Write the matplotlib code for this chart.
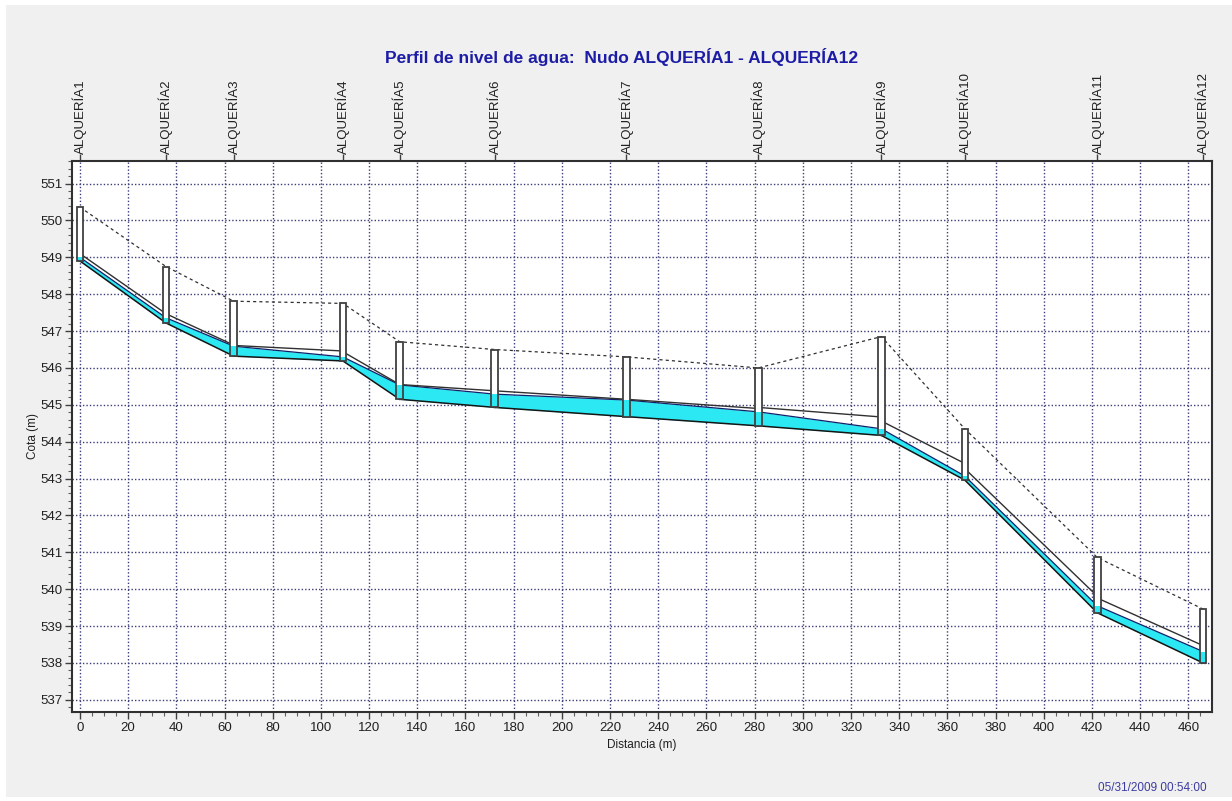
import matplotlib
matplotlib.use("Agg")
import matplotlib.pyplot as plt
from matplotlib.patches import Rectangle
from matplotlib.ticker import MultipleLocator

plt.rcParams['font.family'] = ['Liberation Sans', 'DejaVu Sans']

# nodes (distance along profile, ground, invert and water head in m)
node_names = ["ALQUERÍA1", "ALQUERÍA2", "ALQUERÍA3", "ALQUERÍA4", "ALQUERÍA5", "ALQUERÍA6",
              "ALQUERÍA7", "ALQUERÍA8", "ALQUERÍA9", "ALQUERÍA10", "ALQUERÍA11", "ALQUERÍA12"]
node_x = [0, 35.7, 63.8, 109.1, 132.7, 172.1, 226.8, 281.5, 332.6, 367.2, 422.2, 466.1]
ground = [550.36, 548.75, 547.81, 547.75, 546.71, 546.50, 546.30, 546.00, 546.85, 544.35, 540.86, 539.46]
invert = [548.90, 547.22, 546.32, 546.19, 545.15, 544.93, 544.68, 544.43, 544.17, 542.96, 539.36, 538.00]
head = [549.00, 547.36, 546.59, 546.30, 545.54, 545.29, 545.13, 544.81, 544.35, 543.07, 539.55, 538.31]

# pipe crown height above invert at each end of every link
crown_up = [0.20, 0.25, 0.29, 0.25, 0.40, 0.45, 0.47, 0.50, 0.39, 0.31, 0.40]
crown_dn = [0.25, 0.30, 0.27, 0.40, 0.45, 0.47, 0.47, 0.50, 0.45, 0.45, 0.47]

title = "Perfil de nivel de agua:  Nudo ALQUERÍA1 - ALQUERÍA12"
stamp = "05/31/2009 00:54:00"

W, H = 1232, 801
fig = plt.figure(figsize=(W / 100, H / 100), dpi=100)
fig.patch.set_facecolor("white")
bg = Rectangle((6 / W, 4 / H), (W - 6) / W, (H - 9) / H, transform=fig.transFigure,
               facecolor="#f0f0f0", edgecolor="none", zorder=-10)
fig.add_artist(bg)

ax = fig.add_axes([72 / W, 1 - 712 / H, 1140 / W, (712 - 160.7) / H])
ax.set_zorder(1)
ax.set_facecolor("white")
ax.set_xlim(-3.3, 469.8)
ax.set_ylim(536.67, 551.62)

cyan = "#2ce8f2"
for i in range(len(node_x) - 1):
    x0, x1 = node_x[i], node_x[i + 1]
    inv = [invert[i], invert[i + 1]]
    wat = [head[i], head[i + 1]]
    crw = [invert[i] + crown_up[i], invert[i + 1] + crown_dn[i]]
    ax.fill_between([x0, x1], inv, wat, color=cyan, lw=0, zorder=3)
    ax.plot([x0, x1], wat, color="#10206a", lw=0.9, zorder=4)
    ax.plot([x0, x1], crw, color="#303030", lw=1.0, zorder=4)
    ax.plot([x0, x1], inv, color="#151515", lw=1.1, zorder=4)

ax.plot(node_x, ground, color="#303030", lw=0.9, dashes=(2.5, 2.5), zorder=4)

bw = 2.7
for x, g, b, h in zip(node_x, ground, invert, head):
    ax.add_patch(Rectangle((x - bw / 2, b), bw, g - b, facecolor="white",
                           edgecolor="none", zorder=5))
    ax.add_patch(Rectangle((x - bw / 2, b), bw, h - b, facecolor=cyan,
                           edgecolor="none", zorder=6))
    ax.add_patch(Rectangle((x - bw / 2, b), bw, g - b, facecolor="none",
                           edgecolor="#404040", lw=1.3, zorder=7))

ax.xaxis.set_major_locator(MultipleLocator(20))
ax.xaxis.set_minor_locator(MultipleLocator(5))
ax.yaxis.set_major_locator(MultipleLocator(1))
ax.yaxis.set_minor_locator(MultipleLocator(0.2))
ax.grid(True, which="major", color="#3c3c78", linestyle=(0, (1, 1.5)), lw=1.0, zorder=1)
ax.tick_params(which="major", direction="out", length=5, width=1, color="#404040",
               labelsize=9.5, labelcolor="#202020", pad=2)
ax.tick_params(which="minor", direction="out", length=3, width=0.8, color="#606060")
for s in ax.spines.values():
    s.set_color("#303030")
    s.set_linewidth(1.5)

top = ax.secondary_xaxis("top")
top.set_xticks(node_x)
top.set_xticklabels(node_names, rotation=90, fontsize=9.5, color="#202020")
top.tick_params(direction="out", length=5, width=1, color="#404040", pad=0)
top.spines["top"].set_visible(False)

ax.set_xlabel("Distancia (m)", fontsize=8.5, color="#202020", labelpad=4)
ax.set_ylabel("Cota (m)", fontsize=8.5, color="#202020", labelpad=1)

fig.text(622 / W, 1 - 57 / H, title, ha="center", va="center", fontsize=12.5,
         fontweight="bold", color="#1c1ca6")
fig.text(1207 / W, 1 - 788 / H, stamp, ha="right", va="center", fontsize=8.5,
         color="#3c3ca0")

fig.savefig("out.png", dpi=100, facecolor=fig.get_facecolor())
